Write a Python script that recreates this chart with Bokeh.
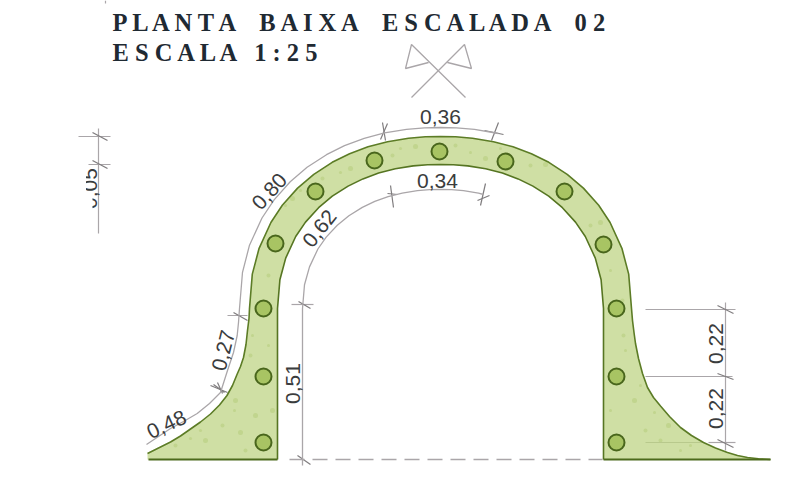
from bokeh.plotting import figure
from bokeh.embed import file_html
from bokeh.resources import INLINE
from bokeh.core.properties import value
import math

# Outline of the wall (image pixels)
outer_x = [147,158,170,180,190,200,210,219,226.5,232,236.5,240,243,245.5,247,248.5,249,251.8,258.6,270.4,281.8,297.1,313.3,331.7,349.1,367.5,387,408,424.9,440,455.1,472,493,512.5,530.9,548.3,566.7,582.9,598.2,609.6,621.4,628.2,631,632,633.5,635,638,642,647,653,660,669,680,691,703,715,727,737,747,758,770]
outer_y = [453,447.5,441.5,435.5,428.5,421.5,413.5,404.5,395,385,374,366,357,344,330,318,308,273.6,247.8,222,204.8,187.6,173.8,161.8,153.2,146.3,141.2,137.7,136.3,136,136.3,137.7,141.2,146.3,153.2,161.8,173.8,187.6,204.8,222,247.8,273.6,308,320,332,343,358,373,387,397,405.5,416,427,435,442,447.5,452,455,457,458.3,459]
inner_x = [603,603,603,600.6,594.8,584.8,575,561.9,548.2,532.4,517.6,501.9,485.2,467.3,452.9,440,427.1,412.7,394.8,378.1,362.4,347.6,331.8,318.1,305,295.2,285.2,279.4,277,277,277]
inner_y = [459,380,308,279.2,257.6,236,221.6,207.2,195.7,185.6,178.4,172.6,168.3,165.4,164.3,164,164.3,165.4,168.3,172.6,178.4,185.6,195.7,207.2,221.6,236,257.6,279.2,308,380,459]

# Reinforcement circles
bar_x = [263,263,263,275,315,374,439,505,564,603,616,616,616]
bar_y = [442,376,308,243,191,160,151,161,191,244,308,376,442]

# Dimension lines
outer_dim_x = [146,158,170,183,196.7,209,220,227,233,236.7,238,239,242,249,261.5,273.6,289.7,306.6,326,344,363.7,384,406,424,440,456,474,498]
outer_dim_y = [444,436,428,421,413,403,392,370,352,335,322,308,271.8,244.7,217.5,199.4,181.3,166.8,154.2,145.1,137.9,132.4,128.8,127.4,127,127.4,128.8,133]
inner_dim_x = [302,302,304,309,317.4,325.7,336.8,348.4,361.8,374.3,387.6,401.7,416.9,429.1,440,451,463,478,483]
inner_dim_y = [465,308,284.2,266.4,248.5,236.6,224.7,215.2,206.9,200.9,196.1,192.6,190.2,189.2,189,189.2,190.2,192.6,194]

dim_segments = [
    ([105,105],[0,3]),
    ([98,98],[128,233]), ([78,110],[136,136]), ([88,110],[164,164]),
    ([227,247],[315,315]), ([291,313],[304,304]),
    ([725,725],[302,450]),
    ([645,735],[309,309]), ([645,732],[376,376]), ([708,735],[442,442]),
]
slash_segments = [
    ([92,107],[132,140]), ([92,107],[160,168]),
    ([382,385],[122,140]), ([380,387],[139,123]), ([498,491],[122,140]), ([484,503],[130,134]),
    ([390,393],[185,207]), ([387,397],[193,194]), ([485,480],[183,205]), ([477,489],[200,195]),
    ([233,247],[312,320]),
    ([210,227],[385,392]), ([217,222],[382,393]), ([213,224],[384,392]),
    ([298,310],[301,308]), ([297,310],[455,464]),
    ([717,733],[305,313]), ([717,733],[373,379]), ([717,733],[439,447]),
]
dash_x = [289,602]
dash_y = [459,459]
band_tick_x = [645,703]
band_tick_y = [442,442]

# North symbol
north_lines = [
    ([465,411,405,428],[97,44,68,62]),
    ([411,464,471,447],[97,44,68,62]),
]

# Labels: text, x, y, rotation in degrees
label_text = ["0,36","0,34","0,80","0,62","0,27","0,48","0,51","0,22","0,22"]
label_x = [440,437,269,319,223,166,292,715,715]
label_y = [116,180,191,228,350,424,383,343,408]
label_rot = [0,0,48,52,76,25,90,90,90]

title_lines = ["P L A N T A \u00a0\u00a0 B A I X A \u00a0\u00a0 E S C A L A D A \u00a0\u00a0 0 2", "E S C A L A \u00a0 1 : 2 5"]
title_y = [21.5,51.5]

# Mottling of the plaster, hand-placed
speck_x = [175,190,205,222,234,240,252,250,268,272,285,268,292,300,322,340,350,370,392,400,415,455,470,485,500,530,545,572,590,610,600,622,625,634,645,654,668,690,623,610,255,612,640,660,680,200,235,245]
speck_y = [445,438,440,425,410,432,335,355,345,410,205,275,198,190,178,172,168,155,155,148,146,145,152,158,148,165,164,190,225,270,222,300,350,400,430,412,425,445,335,410,415,440,385,440,450,430,400,450]
speck_size = [4,3,5,4,3,5,3,4,3,5,3,4,5,3,4,3,5,3,4,3,5,4,3,5,3,4,5,3,4,3,5,4,3,5,4,3,5,3,4,3,5,4,3,4,3,3,5,4]

W, H = 780, 469
p = figure(width=W, height=H, x_range=(0, W), y_range=(H, 0), output_backend="svg",
           toolbar_location=None, min_border=0, outline_line_color=None,
           background_fill_color="white", border_fill_color="white")
p.axis.visible = False
p.grid.visible = False

GREY = "#aaa6a9"
SLASH = "#7f7c7e"
DARK = "#3a3c3d"
p.multi_line([s[0] for s in dim_segments], [s[1] for s in dim_segments], line_color=GREY, line_width=1.2)
p.multi_line([s[0] for s in slash_segments], [s[1] for s in slash_segments], line_color=SLASH, line_width=1.2)
p.line(outer_dim_x, outer_dim_y, line_color=GREY, line_width=1.3)
p.line(inner_dim_x, inner_dim_y, line_color=GREY, line_width=1.3)
p.line(dash_x, dash_y, line_color=GREY, line_width=1.5, line_dash="15 8")
p.multi_line([n[0] for n in north_lines], [n[1] for n in north_lines], line_color=GREY, line_width=1.3)

wall_x = outer_x + inner_x + [147]
wall_y = outer_y + inner_y + [459]
p.patch(wall_x, wall_y, fill_color="#cfdfa4", line_color=None)
p.scatter(speck_x, speck_y, size=speck_size, marker="circle", fill_color="#b3cc78", fill_alpha=0.5, line_color=None)
p.line(band_tick_x, band_tick_y, line_color="#b8c98c", line_width=1.2)
p.line(outer_x, outer_y, line_color="#5c7c26", line_width=1.6)
p.line(inner_x, inner_y, line_color="#567522", line_width=1.6)
p.line([148,277],[459,459], line_color="#4c6a1c", line_width=1.8)
p.line([603,770],[459,459], line_color="#4c6a1c", line_width=1.8)
p.scatter(bar_x, bar_y, size=16, marker="circle", fill_color="#a8c463", line_color="#49661c", line_width=2)

p.text(label_x, label_y, text=label_text, angle=[math.radians(r) for r in label_rot],
       text_font=value("Liberation Sans"), text_font_size="21px", text_color=DARK,
       text_align="center", text_baseline="middle")

# Clipped label at the left margin
p.text([89],[188], text=["0,05"], angle=[math.radians(90)], text_font=value("Liberation Sans"),
       text_font_size="21px", text_color=DARK, text_align="center", text_baseline="middle")
p.patch([60,85.5,85.5,92,92,60],[160,160,190,194,215,215], fill_color="white", line_color=None)

p.text([112]*2, title_y, text=title_lines, text_font=value("Liberation Serif"), text_font_size="24.5px",
       text_font_style="bold", text_color="#1f2a33", text_align="left", text_baseline="middle")

open("out.html", "w").write(file_html(p, INLINE))
